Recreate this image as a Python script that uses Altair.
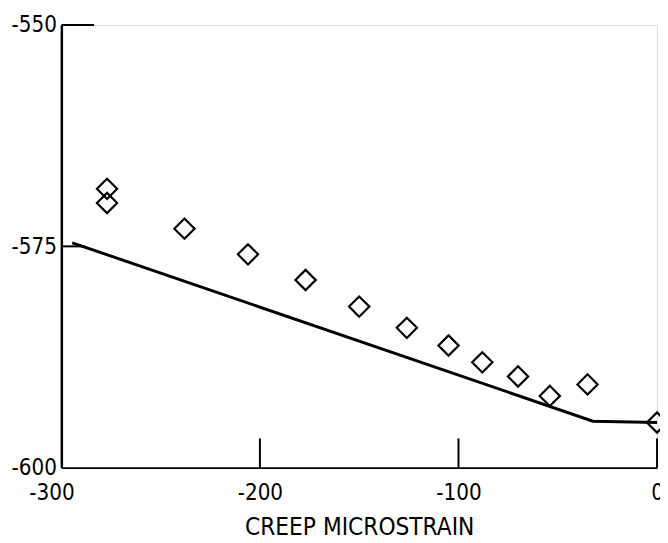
import altair as alt
import pandas as pd

# Measured creep data (diamonds)
pt_x = [-277, -277, -238, -206, -177, -150, -126, -105, -88, -70, -54, -35, 0]
pt_y = [-568.5, -570.1, -573.0, -575.9, -578.8, -581.8, -584.2, -586.2, -588.1, -589.7, -591.9, -590.6, -594.9]

# Predicted line
line_x = [-294.5, -32.3, 0]
line_y = [-574.6, -594.75, -594.9]

# Inward tick marks
tick_x = [-300, -300, -200, -100, 0]
tick_x2 = [-283.5, -288, -200, -100, 0]
tick_y = [-550, -575, -600, -600, -600]
tick_y2 = [-550, -575, -596.7, -596.7, -596.7]

x_ticks = [-300, -200, -100, 0]
y_ticks = [-550, -575, -600]

FONT = "DejaVu Sans Condensed, Liberation Sans, sans-serif"

pts = pd.DataFrame({"x": pt_x, "y": pt_y})
ln = pd.DataFrame({"x": line_x, "y": line_y})
tk = pd.DataFrame({"x": tick_x, "x2": tick_x2, "y": tick_y, "y2": tick_y2})

xs = alt.Scale(domain=[-300, 0], nice=False, zero=False)
ys = alt.Scale(domain=[-600, -550], nice=False, zero=False)

xaxis = alt.Axis(values=x_ticks, title="CREEP MICROSTRAIN", grid=False, ticks=False, tickSize=0,
                 domainColor="black", domainWidth=2, labelFont=FONT, labelFontSize=22.5,
                 labelColor="black", labelPadding=14, labelFlush=False, labelOverlap=False,
                 labelExpr="'' + datum.value",
                 labelOffset={"condition": {"test": "datum.value == -300", "value": -10}, "value": 0},
                 titleFont=FONT, titleFontSize=24.5, titleFontWeight="normal", titleColor="black",
                 titlePadding=12)
yaxis = alt.Axis(values=y_ticks, title=None, grid=False, ticks=False, tickSize=0,
                 domainColor="black", domainWidth=2.5, labelFont=FONT, labelFontSize=22.5,
                 labelColor="black", labelPadding=5, labelFlush=False, labelOverlap=False,
                 labelExpr="'' + datum.value")

line = alt.Chart(ln).mark_line(color="black", strokeWidth=3).encode(
    x=alt.X("x:Q", scale=xs, axis=xaxis),
    y=alt.Y("y:Q", scale=ys, axis=yaxis),
)

points = alt.Chart(pts).mark_point(shape="diamond", size=420, filled=False, color="black",
                                   strokeWidth=2.2, opacity=1).encode(
    x=alt.X("x:Q", scale=xs),
    y=alt.Y("y:Q", scale=ys),
)

ticks = alt.Chart(tk).mark_rule(color="black", strokeWidth=2).encode(
    x=alt.X("x:Q", scale=xs), x2="x2:Q",
    y=alt.Y("y:Q", scale=ys), y2="y2:Q",
)

chart = alt.layer(line, ticks, points).properties(
    width=603, height=448,
    autosize=alt.AutoSizeParams(type="none"),
    padding={"left": 54, "top": 14, "right": 3, "bottom": 73},
).configure_view(stroke=None).configure(background="white")

chart.save("out.html", embed_options={"renderer": "svg", "actions": False})
